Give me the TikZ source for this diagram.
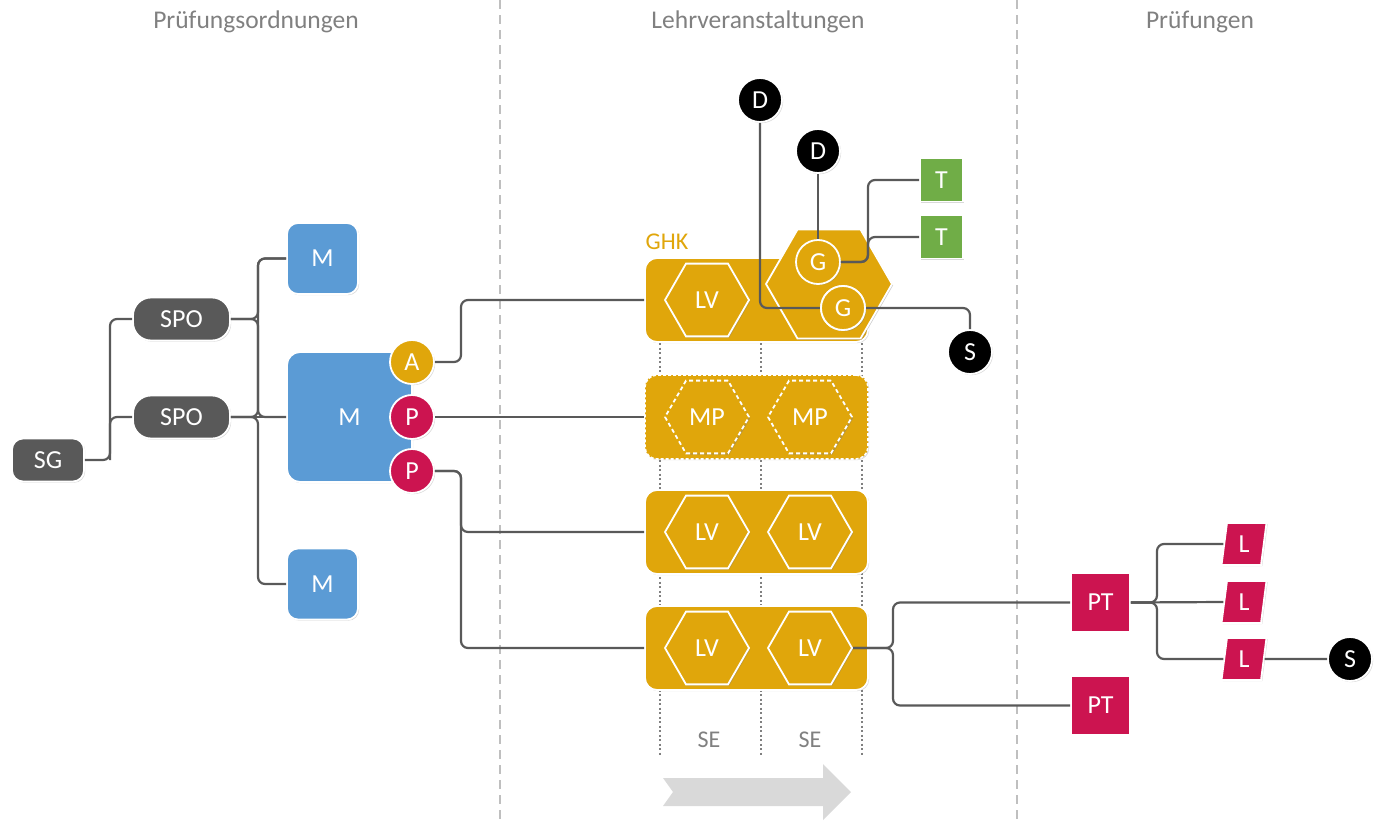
\documentclass[tikz,border=0pt]{standalone}
\usepackage{fontspec}
\setmainfont{Carlito}
\usetikzlibrary{shapes.geometric,shadows,calc}
\definecolor{cdark}{RGB}{89,89,89}
\definecolor{cblue}{RGB}{91,155,213}
\definecolor{cgold}{RGB}{224,166,11}
\definecolor{cred}{RGB}{204,20,80}
\definecolor{cgreen}{RGB}{112,173,71}
\definecolor{chead}{RGB}{128,128,128}
\definecolor{csep}{RGB}{191,191,191}
\definecolor{carrow}{RGB}{217,217,217}
\begin{document}
\begin{tikzpicture}[x=1pt,y=-1pt,
  lbl/.style={font=\fontsize{26}{30}\selectfont, text=white},
  nd/.style={lbl, draw=white, line width=1.8pt, inner sep=0pt,
    drop shadow={opacity=0.3,shadow xshift=1.2pt,shadow yshift=-1.2pt}},
  conn/.style={draw=cdark, line width=2.2pt, rounded corners=7pt},
  head/.style={font=\fontsize{25.5}{30}\selectfont, text=chead},
  sep/.style={draw=csep, line width=1.5pt, dash pattern=on 9pt off 6pt},
  dotl/.style={draw=chead, line width=1.6pt, dash pattern=on 2pt off 2.5pt},
  pill/.style={nd, fill=cdark, rectangle, minimum height=43pt},
  modbox/.style={nd, fill=cblue, rectangle},
  dot/.style={nd, circle, minimum size=44pt},
  ghk/.style={nd, fill=cgold, rectangle, rounded corners=12pt, minimum width=223pt, minimum height=84pt},
  hexa/.style={nd, regular polygon, regular polygon sides=6, fill=cgold, drop shadow={opacity=0.2,shadow xshift=1pt,shadow yshift=-1pt}},
  tsq/.style={nd, fill=cgreen, rectangle, minimum size=43pt},
  ptsq/.style={nd, fill=cred, rectangle, minimum size=59pt},
  lpar/.style={nd, fill=cred, trapezium, trapezium left angle=84, trapezium right angle=96, trapezium stretches=true, minimum width=45pt, minimum height=42pt}
]
\useasboundingbox (0,0) rectangle (1385,822);

% separators and headers
\draw[sep] (500,0) -- (500,822);
\draw[sep] (1017,0) -- (1017,822);
\node[head] (h1) at (256,22) {Prüfungsordnungen};
\node[head] (h2) at (758,22) {Lehrveranstaltungen};
\node[head] (h3) at (1200,22) {Prüfungen};

% bus coordinates
\coordinate (x1) at (110,0);
\coordinate (x2) at (258,0);
\coordinate (x3) at (461,0);
\coordinate (x4) at (868,0);
\coordinate (x6) at (893,0);
\coordinate (x7) at (1157,0);

% dotted semester lines
\draw[dotl] (660,343) -- (660,755);
\draw[dotl] (761,343) -- (761,755);
\draw[dotl] (862,343) -- (862,755);
\node[head, font=\fontsize{24}{28}\selectfont] (se1) at (709,740) {SE};
\node[head, font=\fontsize{24}{28}\selectfont] (se2) at (810,740) {SE};

% gray arrow
\fill[carrow] (663,778) -- (823,778) -- (823,764) -- (851,792) -- (823,820) -- (823,806) -- (663,806) -- (673,792) -- cycle;

% left column
\node[pill, rounded corners=11pt, minimum width=72pt] (SG) at (48,460) {SG};
\node[pill, rounded corners=18pt, minimum width=97pt] (SPO1) at (181.5,319) {SPO};
\node[pill, rounded corners=18pt, minimum width=97pt] (SPO2) at (181.5,417) {SPO};
\node[modbox, rounded corners=11pt, minimum size=71pt] (M1) at (322.5,258.5) {M};
\node[modbox, rounded corners=13pt, minimum width=125pt, minimum height=130pt] (M) at (349.5,417) {M};
\node[modbox, rounded corners=11pt, minimum size=71pt] (M3) at (322.5,584) {M};

\draw[conn] (SG.east) -| (x1 |- SPO1.west) -- (SPO1.west);
\draw[conn] (SPO2.west) -| (x1 |- SG.east);
\draw[conn] (SPO1.east) -| (x2 |- M1.west) -- (M1.west);
\draw[conn] (SPO1.east) -| (x2 |- M.west) -- (M.west);
\draw[conn] (SPO2.east) -- (M.west);
\draw[conn] (SPO2.east) -| (x2 |- M1.west) -- (M1.west);
\draw[conn] (SPO2.east) -| (x2 |- M3.west) -- (M3.west);

\node[dot, fill=cgold] (A) at (412,362) {A};
\node[dot, fill=cred] (P1) at (412,417) {P};
\node[dot, fill=cred] (P2) at (412,471) {P};

% GHK boxes
\node[text=cgold, font=\fontsize{24}{28}\selectfont] (ghklbl) at (667,242) {GHK};
\node[ghk] (B1) at (756.5,300) {};
\node[ghk, dash pattern=on 3pt off 2pt, line width=1.6pt] (B2) at (756.5,417) {};
\node[ghk] (B3) at (756.5,532) {};
\node[ghk] (B4) at (756.5,648) {};

\node[hexa, minimum size=84pt] (lv11) at (707,300) {LV};
\node[hexa, minimum size=126pt] (big) at (829,284) {};
\node[hexa, minimum size=84pt, dash pattern=on 4pt off 3pt, drop shadow={opacity=0}] (mp1) at (707,417) {MP};
\node[hexa, minimum size=84pt, dash pattern=on 4pt off 3pt, drop shadow={opacity=0}] (mp2) at (810,417) {MP};
\node[hexa, minimum size=84pt] (lv31) at (707,532) {LV};
\node[hexa, minimum size=84pt] (lv32) at (810,532) {LV};
\node[hexa, minimum size=84pt] (lv41) at (707,648) {LV};
\node[hexa, minimum size=84pt] (lv42) at (810,648) {LV};

\draw[conn] (A.east) -| (x3 |- B1.west) -- (B1.west);
\draw[conn] (P1.east) -- (B2.west);
\draw[conn] (P2.east) -| (x3 |- B3.west) -- (B3.west);
\draw[conn] (P2.east) -| (x3 |- B4.west) -- (B4.west);

% top nodes
\node[dot, fill=black] (D1) at (760,100) {D};
\node[dot, fill=black] (D2) at (818,151) {D};
\node[tsq] (T1) at (941.5,180) {T};
\node[tsq] (T2) at (941.5,237) {T};
\node[dot, fill=black] (S1) at (970,352) {S};

\node[dot, fill=cgold, drop shadow={opacity=0}] (G1) at (818,262) {G};
\node[dot, fill=cgold, drop shadow={opacity=0}] (G2) at (843,308) {G};

\draw[conn] (D1.south) |- (G2.west);
\draw[conn] (D2.south) -- (G1.north);
\draw[conn] (G1.east) -| (x4 |- T1.west) -- (T1.west);
\draw[conn] (G1.east) -| (x4 |- T2.west) -- (T2.west);
\draw[conn] (G2.east) -| (S1.north);
\node[dot, fill=cgold, drop shadow={opacity=0}] at (G2) {G};

% exams
\node[ptsq] (PT1) at (1100.5,602.5) {PT};
\node[ptsq] (PT2) at (1100.5,705.5) {PT};
\node[lpar] (L1) at (1244,544) {L};
\node[lpar] (L2) at (1244,602) {L};
\node[lpar] (L3) at (1244,659) {L};
\node[dot, fill=black] (S2) at (1350,659) {S};

\draw[conn] (lv42.east) -| (x6 |- PT1.west) -- (PT1.west);
\draw[conn] (lv42.east) -| (x6 |- PT2.west) -- (PT2.west);
\draw[conn] (PT1.east) -| (x7 |- L1.west) -- (L1.west);
\draw[conn] (PT1.east) -- (L2.west);
\draw[conn] (PT1.east) -| (x7 |- L3.west) -- (L3.west);
\draw[conn] (L3.east) -- (S2.west);
\end{tikzpicture}
\end{document}
